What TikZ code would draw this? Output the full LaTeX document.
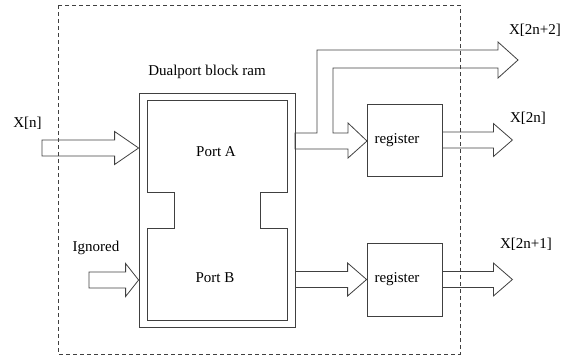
\documentclass[tikz,border=0pt]{standalone}
\usepackage{fontspec}
\setmainfont{Liberation Serif}
\usetikzlibrary{calc}

\tikzset{
  line/.style={draw=black!75, line width=0.8pt, line join=miter},
  blk/.style={line, inner sep=0pt},
  lbl/.style={font=\fontsize{15}{17}\selectfont, inner sep=0pt},
  regbox/.style={blk, lbl, minimum width=75, text width=60, align=left},
}

% hollow block arrow: tail, tip, head length
\newcommand{\fatarrow}[3]{%
  \draw[line] let \p1=#1, \p2=#2 in
    (\x1,\y1+8pt) -- (\x2-#3,\y1+8pt) -- (\x2-#3,\y1+16.5pt) -- (\x2,\y2)
    -- (\x2-#3,\y1-16.5pt) -- (\x2-#3,\y1-8pt) -- (\x1,\y1-8pt) -- cycle;}

\begin{document}
\begin{tikzpicture}[x=1pt,y=-1pt]
\useasboundingbox (0,0) rectangle (567,357);

% Block ram
\node[blk, minimum width=156, minimum height=234] (ram) at (217,210) {};
\draw[line]
  (147,100) -- (287,100) -- (287,192) -- (260,192) -- (260,228) -- (287,228) --
  (287,320) -- (147,320) -- (147,228) -- (174,228) -- (174,192) -- (147,192) -- cycle;
\node[lbl] (title) at (207,72) {Dualport block ram};
\node[lbl] (porta) at (216,152) {Port A};
\node[lbl] (portb) at (215,278) {Port B};

% Registers
\node[regbox, minimum height=72] (rega) at (404.5,140) {register};
\node[regbox, minimum height=73] (regb) at (404.5,279.5) {register};

% Inputs
\coordinate (xin) at (42,148);
\coordinate (ign) at (89,280);
\fatarrow{(xin)}{(ram.west |- xin)}{24pt}
\fatarrow{(ign)}{(ram.west |- ign)}{13pt}
\node[lbl] (xn) at (27.5,123) {X[n]};
\node[lbl] (ignored) at (96,248) {Ignored};

% Port A to register, with branch out
\draw[line]
  (295,133) -- (317,133) -- (317,50) -- (498,50) -- (498,42) -- (518,60) --
  (498,78) -- (498,68) -- (333,68) -- (333,133) -- (348,133) -- (348,123) --
  (367,141) -- (348,158) -- (348,149) -- (295,149) -- cycle;

% Port B to register
\fatarrow{(ram.east |- regb.west)}{(regb.west)}{19pt}

% Outputs
\fatarrow{(rega.east)}{($(rega.east)+(70,0)$)}{19pt}
\fatarrow{(regb.east)}{($(regb.east)+(70,0)$)}{19pt}
\node[lbl] (x2n2) at (535,30) {X[2n+2]};
\node[lbl] (x2n) at (528,118) {X[2n]};
\node[lbl] (x2n1) at (526,244) {X[2n+1]};

% Dashed border
\draw[line, dash pattern=on 4pt off 3pt] (58,5) rectangle (460,354);

\end{tikzpicture}
\end{document}
